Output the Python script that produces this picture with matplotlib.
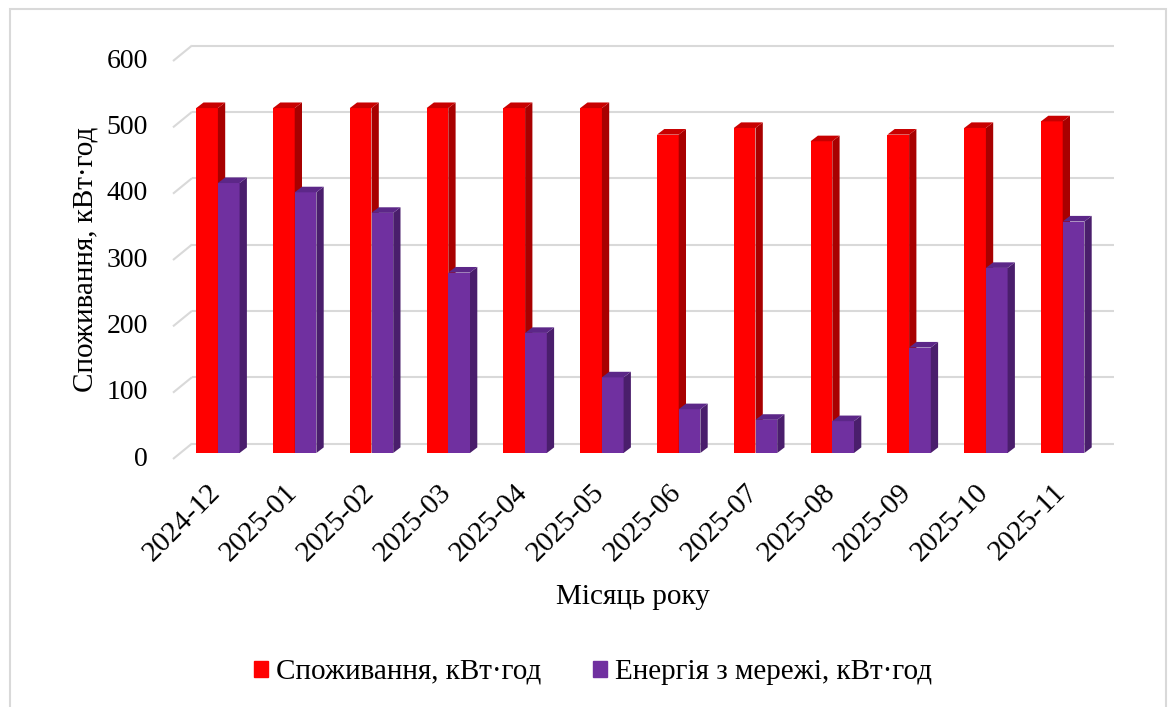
import numpy as np
import matplotlib.pyplot as plt
from matplotlib.patches import Polygon, Patch, Rectangle

plt.rcParams['font.family'] = ['Liberation Serif', 'DejaVu Serif']

# Data
months = ['2024-12', '2025-01', '2025-02', '2025-03', '2025-04', '2025-05',
          '2025-06', '2025-07', '2025-08', '2025-09', '2025-10', '2025-11']
consumption = [520, 520, 520, 520, 520, 520, 480, 490, 470, 480, 490, 500]
from_grid = [407, 393, 362, 272, 181, 114, 66, 50, 48, 159, 279, 349]
y_ticks = [0, 100, 200, 300, 400, 500, 600]

series_names = ['Споживання, кВт·год', 'Енергія з мережі, кВт·год']
front_colors = ['#FF0000', '#7030A0']
side_colors = ['#A80000', '#4A1E6C']
top_colors = ['#C80000', '#5C2788']

W, H = 1168, 707
fig = plt.figure(figsize=(W / 100, H / 100), dpi=100)

# pixel scale of the "3D" box
px_cat = 76.8        # pixels per category
px_val = 0.6633      # pixels per value unit
floor_left, floor_y0 = 173, 459
x0 = -0.5
ylim_top = 625
xlim_right = 11.75

ax = fig.add_axes([floor_left / W, 1 - floor_y0 / H,
                   (xlim_right - x0) * px_cat / W, ylim_top * px_val / H])
ax.set_xlim(x0, xlim_right)
ax.set_ylim(0, ylim_top)
ax.axis('off')

# depth offsets in data units
DX, DY = 19 / px_cat, 15.5 / px_val          # floor depth
bdx, bdy = 7.3 / px_cat, 5.6 / px_val        # bar depth
fdx, fdy = 6.5 / px_cat, 6 / px_val          # bar front plane offset
grid_c = '#D9D9D9'

# gridlines on back wall + slanted lines on left side
for v in y_ticks:
    ax.plot([x0, x0 + DX], [v, v + DY], color=grid_c, lw=1.5, zorder=1,
            clip_on=False, solid_capstyle='butt')
    ax.plot([x0 + DX, 11.5 + DX], [v + DY, v + DY], color=grid_c, lw=1.5,
            zorder=1, clip_on=False, solid_capstyle='butt')
    ax.text(x0 - 25 / px_cat, v, str(v), ha='right', va='center', fontsize=20)

bw = 21.7 / px_cat
xs = np.arange(len(months))
for s, vals in enumerate([consumption, from_grid]):
    lefts = xs + fdx - bw + s * bw
    ax.bar(lefts, vals, width=bw, bottom=fdy, align='edge',
           color=front_colors[s], zorder=3 + 2 * s, clip_on=False)
    for left, v in zip(lefts, vals):
        r = left + bw
        top = v + fdy
        side = Polygon([(r, fdy), (r + bdx, fdy + bdy), (r + bdx, top + bdy), (r, top)],
                       closed=True, color=side_colors[s], zorder=3 + 2 * s, lw=0)
        topf = Polygon([(left, top), (r, top), (r + bdx, top + bdy), (left + bdx, top + bdy)],
                       closed=True, color=top_colors[s], zorder=3 + 2 * s, lw=0)
        ax.add_patch(side)
        ax.add_patch(topf)

# category labels
for i, m in enumerate(months):
    ax.text(i + 0.068, -44, m, rotation=45, rotation_mode='anchor',
            ha='right', va='center', fontsize=21)

fig.text(86 / W, 1 - 259 / H, 'Споживання, кВт·год', rotation=90,
         ha='center', va='center', fontsize=21)
fig.text(633 / W, 1 - 597 / H, 'Місяць року', ha='center', va='center', fontsize=21)

handles = [Patch(color=c) for c in front_colors]
fig.legend(handles, series_names, loc='center', bbox_to_anchor=(593 / W, 1 - 672 / H),
           ncol=2, frameon=False, fontsize=21, handlelength=0.48, handleheight=0.48,
           handletextpad=0.27, columnspacing=1.8)

# outer chart border
fig.patches.append(Rectangle((10 / W, -0.02), 1156 / W, (H - 9) / H + 0.02,
                             transform=fig.transFigure, fill=False,
                             edgecolor=grid_c, lw=1.5))

fig.savefig('out.png', dpi=100)
